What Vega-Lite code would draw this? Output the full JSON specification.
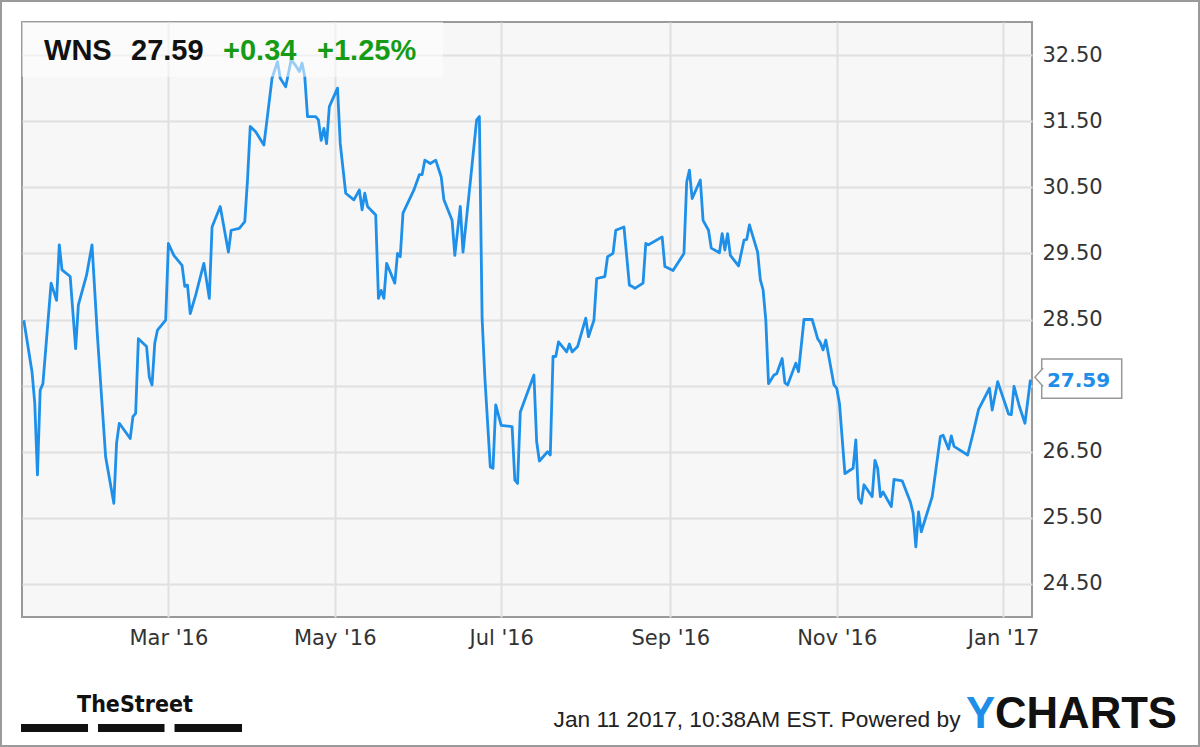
{
  "$schema": "https://vega.github.io/schema/vega-lite/v6.json",
  "width": 1010,
  "height": 595,
  "autosize": {"type": "none"},
  "padding": {"left": 22, "top": 22, "right": 168, "bottom": 130},
  "background": "white",
  "config": {
    "view": {"fill": "#f7f7f7", "stroke": "#9a9a9a", "strokeWidth": 2},
    "axis": {
      "grid": true, "gridColor": "#e0e0e0", "gridWidth": 2,
      "ticks": false, "tickSize": 0, "domain": false, "title": null,
      "labelFont": "DejaVu Sans", "labelFontSize": 21, "labelColor": "#333333", "labelPadding": 10
    }
  },
  "datasets": {
    "wns": [
      {"date":"2016-01-08","price":28.49},{"date":"2016-01-11","price":27.71},{"date":"2016-01-12","price":27.24},{"date":"2016-01-13","price":26.15},{"date":"2016-01-14","price":27.43},{"date":"2016-01-15","price":27.53},{"date":"2016-01-18","price":29.05},{"date":"2016-01-20","price":28.79},{"date":"2016-01-21","price":29.63},{"date":"2016-01-22","price":29.25},{"date":"2016-01-25","price":29.15},{"date":"2016-01-27","price":28.06},{"date":"2016-01-28","price":28.72},{"date":"2016-01-31","price":29.17},
      {"date":"2016-02-02","price":29.63},{"date":"2016-02-04","price":28.24},{"date":"2016-02-07","price":26.42},{"date":"2016-02-10","price":25.72},{"date":"2016-02-11","price":26.63},{"date":"2016-02-12","price":26.93},{"date":"2016-02-16","price":26.70},{"date":"2016-02-17","price":27.03},{"date":"2016-02-18","price":27.08},{"date":"2016-02-19","price":28.21},{"date":"2016-02-22","price":28.09},{"date":"2016-02-23","price":27.63},{"date":"2016-02-24","price":27.51},{"date":"2016-02-25","price":28.14},{"date":"2016-02-26","price":28.34},{"date":"2016-02-29","price":28.49},
      {"date":"2016-03-01","price":29.65},{"date":"2016-03-03","price":29.47},{"date":"2016-03-06","price":29.32},{"date":"2016-03-07","price":29.00},{"date":"2016-03-08","price":29.02},{"date":"2016-03-09","price":28.59},{"date":"2016-03-11","price":28.87},{"date":"2016-03-14","price":29.35},{"date":"2016-03-16","price":28.82},{"date":"2016-03-17","price":29.90},{"date":"2016-03-20","price":30.21},{"date":"2016-03-23","price":29.52},{"date":"2016-03-24","price":29.85},{"date":"2016-03-27","price":29.88},{"date":"2016-03-29","price":29.98},{"date":"2016-03-30","price":30.61},{"date":"2016-03-31","price":31.42},
      {"date":"2016-04-02","price":31.34},{"date":"2016-04-05","price":31.14},{"date":"2016-04-06","price":31.47},{"date":"2016-04-08","price":32.15},{"date":"2016-04-10","price":32.40},{"date":"2016-04-11","price":32.15},{"date":"2016-04-13","price":32.02},{"date":"2016-04-15","price":32.43},{"date":"2016-04-17","price":32.32},{"date":"2016-04-18","price":32.25},{"date":"2016-04-19","price":32.38},{"date":"2016-04-20","price":32.17},{"date":"2016-04-21","price":31.57},{"date":"2016-04-24","price":31.57},{"date":"2016-04-25","price":31.52},{"date":"2016-04-26","price":31.21},{"date":"2016-04-27","price":31.39},{"date":"2016-04-28","price":31.16},{"date":"2016-04-29","price":31.72},
      {"date":"2016-05-02","price":32.00},{"date":"2016-05-03","price":31.16},{"date":"2016-05-05","price":30.41},{"date":"2016-05-08","price":30.31},{"date":"2016-05-10","price":30.46},{"date":"2016-05-11","price":30.16},{"date":"2016-05-12","price":30.41},{"date":"2016-05-13","price":30.21},{"date":"2016-05-16","price":30.08},{"date":"2016-05-17","price":28.82},{"date":"2016-05-18","price":28.94},{"date":"2016-05-19","price":28.82},{"date":"2016-05-20","price":29.35},{"date":"2016-05-23","price":29.05},{"date":"2016-05-24","price":29.50},{"date":"2016-05-25","price":29.45},{"date":"2016-05-26","price":30.11},{"date":"2016-05-30","price":30.46},
      {"date":"2016-06-01","price":30.69},{"date":"2016-06-02","price":30.69},{"date":"2016-06-03","price":30.91},{"date":"2016-06-05","price":30.86},{"date":"2016-06-07","price":30.91},{"date":"2016-06-09","price":30.66},{"date":"2016-06-10","price":30.31},{"date":"2016-06-13","price":30.00},{"date":"2016-06-14","price":29.47},{"date":"2016-06-16","price":30.21},{"date":"2016-06-17","price":29.52},{"date":"2016-06-20","price":30.71},{"date":"2016-06-22","price":31.52},{"date":"2016-06-23","price":31.57},{"date":"2016-06-24","price":28.52},{"date":"2016-06-25","price":27.63},{"date":"2016-06-27","price":26.27},{"date":"2016-06-28","price":26.25},{"date":"2016-06-29","price":27.21},
      {"date":"2016-07-01","price":26.90},{"date":"2016-07-05","price":26.88},{"date":"2016-07-06","price":26.07},{"date":"2016-07-07","price":26.02},{"date":"2016-07-08","price":27.10},{"date":"2016-07-13","price":27.66},{"date":"2016-07-14","price":26.65},{"date":"2016-07-15","price":26.36},{"date":"2016-07-18","price":26.50},{"date":"2016-07-19","price":26.45},{"date":"2016-07-20","price":27.94},{"date":"2016-07-21","price":27.94},{"date":"2016-07-22","price":28.16},{"date":"2016-07-25","price":28.01},{"date":"2016-07-26","price":28.13},{"date":"2016-07-27","price":28.01},{"date":"2016-07-29","price":28.09},
      {"date":"2016-08-01","price":28.52},{"date":"2016-08-02","price":28.24},{"date":"2016-08-04","price":28.49},{"date":"2016-08-05","price":29.12},{"date":"2016-08-08","price":29.15},{"date":"2016-08-09","price":29.45},{"date":"2016-08-11","price":29.50},{"date":"2016-08-12","price":29.85},{"date":"2016-08-15","price":29.90},{"date":"2016-08-17","price":29.02},{"date":"2016-08-18","price":29.00},{"date":"2016-08-19","price":28.97},{"date":"2016-08-22","price":29.05},{"date":"2016-08-23","price":29.65},{"date":"2016-08-24","price":29.63},{"date":"2016-08-29","price":29.75},{"date":"2016-08-30","price":29.30},
      {"date":"2016-09-02","price":29.24},{"date":"2016-09-06","price":29.50},{"date":"2016-09-07","price":30.58},{"date":"2016-09-08","price":30.76},{"date":"2016-09-09","price":30.33},{"date":"2016-09-12","price":30.61},{"date":"2016-09-13","price":30.00},{"date":"2016-09-15","price":29.85},{"date":"2016-09-16","price":29.58},{"date":"2016-09-19","price":29.51},{"date":"2016-09-20","price":29.80},{"date":"2016-09-21","price":29.55},{"date":"2016-09-22","price":29.80},{"date":"2016-09-23","price":29.47},{"date":"2016-09-26","price":29.31},{"date":"2016-09-28","price":29.70},{"date":"2016-09-29","price":29.71},{"date":"2016-09-30","price":29.93},
      {"date":"2016-10-03","price":29.52},{"date":"2016-10-04","price":29.10},{"date":"2016-10-05","price":28.95},{"date":"2016-10-06","price":28.49},{"date":"2016-10-07","price":27.53},{"date":"2016-10-09","price":27.66},{"date":"2016-10-10","price":27.68},{"date":"2016-10-12","price":27.91},{"date":"2016-10-13","price":27.54},{"date":"2016-10-14","price":27.51},{"date":"2016-10-17","price":27.84},{"date":"2016-10-18","price":27.71},{"date":"2016-10-20","price":28.50},{"date":"2016-10-23","price":28.50},{"date":"2016-10-25","price":28.21},{"date":"2016-10-26","price":28.15},{"date":"2016-10-27","price":28.04},{"date":"2016-10-28","price":28.19},{"date":"2016-10-31","price":27.51},
      {"date":"2016-11-01","price":27.46},{"date":"2016-11-02","price":27.23},{"date":"2016-11-04","price":26.17},{"date":"2016-11-07","price":26.25},{"date":"2016-11-08","price":26.68},{"date":"2016-11-09","price":25.79},{"date":"2016-11-10","price":25.72},{"date":"2016-11-11","price":26.00},{"date":"2016-11-14","price":25.82},{"date":"2016-11-15","price":26.37},{"date":"2016-11-16","price":26.25},{"date":"2016-11-17","price":25.82},{"date":"2016-11-18","price":25.89},{"date":"2016-11-21","price":25.67},{"date":"2016-11-22","price":26.08},{"date":"2016-11-25","price":26.06},{"date":"2016-11-28","price":25.74},{"date":"2016-11-29","price":25.57},{"date":"2016-11-30","price":25.06},
      {"date":"2016-12-01","price":25.59},{"date":"2016-12-02","price":25.29},{"date":"2016-12-06","price":25.82},{"date":"2016-12-09","price":26.73},{"date":"2016-12-10","price":26.75},{"date":"2016-12-12","price":26.54},{"date":"2016-12-13","price":26.74},{"date":"2016-12-14","price":26.58},{"date":"2016-12-19","price":26.45},{"date":"2016-12-21","price":26.78},{"date":"2016-12-23","price":27.14},{"date":"2016-12-27","price":27.46},{"date":"2016-12-28","price":27.13},{"date":"2016-12-30","price":27.56},
      {"date":"2017-01-03","price":27.07},{"date":"2017-01-04","price":27.06},{"date":"2017-01-05","price":27.49},{"date":"2017-01-07","price":27.18},{"date":"2017-01-09","price":26.93},{"date":"2017-01-11","price":27.59}
    ],
    "first": [{"date":"2016-01-08","price":28.49}],
    "last": [{"date":"2017-01-11","price":27.59}]
  },
  "encoding": {
    "x": {
      "field": "date", "type": "temporal",
      "scale": {"type": "utc", "domain": [{"year":2016,"month":1,"date":7,"hours":8,"utc":true},{"year":2017,"month":1,"date":11,"hours":14,"utc":true}]},
      "axis": {
        "orient": "bottom", "format": "%b '%y",
        "values": [{"year":2016,"month":3,"date":1,"utc":true},{"year":2016,"month":5,"date":1,"utc":true},{"year":2016,"month":7,"date":1,"utc":true},{"year":2016,"month":9,"date":1,"utc":true},{"year":2016,"month":11,"date":1,"utc":true},{"year":2017,"month":1,"date":1,"utc":true}]
      }
    },
    "y": {
      "field": "price", "type": "quantitative",
      "scale": {"domain": [24, 33], "nice": false, "zero": false},
      "axis": {"orient": "right", "format": ".2f", "values": [24.5,25.5,26.5,27.5,28.5,29.5,30.5,31.5,32.5], "labelExpr": "datum.value == 27.5 ? '' : datum.label"}
    }
  },
  "layer": [
    {
      "data": {"name": "wns"},
      "mark": {"type": "line", "color": "#1e90ea", "strokeWidth": 2.8, "strokeJoin": "round"}
    },
    {
      "data": {"name": "first"},
      "mark": {"type": "rect", "fill": "white", "opacity": 0.55, "xOffset": -1.8, "x2Offset": 419.2},
      "encoding": {"x2": {"field": "date"}, "y": {"datum": 33, "type": "quantitative"}, "y2": {"datum": 32.173}}
    },
    {
      "data": {"name": "first"},
      "mark": {"type": "text", "text": "WNS", "font": "Liberation Sans", "fontWeight": "bold", "fontSize": 29, "align": "left", "baseline": "alphabetic", "color": "#111111", "dx": 20.2},
      "encoding": {"y": {"datum": 32.425, "type": "quantitative"}}
    },
    {
      "data": {"name": "first"},
      "mark": {"type": "text", "text": "27.59", "font": "Liberation Sans", "fontWeight": "bold", "fontSize": 29, "align": "left", "baseline": "alphabetic", "color": "#111111", "dx": 107.2},
      "encoding": {"y": {"datum": 32.425, "type": "quantitative"}}
    },
    {
      "data": {"name": "first"},
      "mark": {"type": "text", "text": "+0.34", "font": "Liberation Sans", "fontWeight": "bold", "fontSize": 29, "align": "left", "baseline": "alphabetic", "color": "#169b16", "dx": 199.2},
      "encoding": {"y": {"datum": 32.425, "type": "quantitative"}}
    },
    {
      "data": {"name": "first"},
      "mark": {"type": "text", "text": "+1.25%", "font": "Liberation Sans", "fontWeight": "bold", "fontSize": 29, "align": "left", "baseline": "alphabetic", "color": "#169b16", "dx": 293.2},
      "encoding": {"y": {"datum": 32.425, "type": "quantitative"}}
    },
    {
      "data": {"name": "last"},
      "mark": {"type": "rect", "fill": "white", "stroke": "#999999", "strokeWidth": 1.5, "xOffset": 11.3, "x2Offset": 91.3, "yOffset": -20.7, "y2Offset": 18.6},
      "encoding": {"x2": {"field": "date"}, "y2": {"field": "price"}}
    },
    {
      "data": {"name": "last"},
      "mark": {"type": "point", "shape": "M0.45,-1L-0.45,0L0.45,1", "size": 340, "filled": true, "fill": "white", "stroke": "#999999", "strokeWidth": 1.5, "opacity": 1, "xOffset": 8.6, "yOffset": -2.4}
    },
    {
      "data": {"name": "last"},
      "mark": {"type": "text", "font": "DejaVu Sans", "fontWeight": "bold", "fontSize": 20, "align": "left", "baseline": "middle", "color": "#1e8ee8", "dx": 16.5, "dy": 1},
      "encoding": {"text": {"field": "price", "format": ".2f"}}
    },
    {
      "data": {"name": "first"},
      "mark": {"type": "text", "text": "TheStreet", "font": "Liberation Sans Narrow, DejaVu Sans Condensed, sans-serif", "fontWeight": "bold", "fontSize": 23, "align": "left", "baseline": "alphabetic", "color": "#111111", "dx": 53.2},
      "encoding": {"y": {"datum": 22.563, "type": "quantitative"}}
    },
    {
      "data": {"name": "first"},
      "mark": {"type": "rect", "fill": "#111111", "xOffset": -2.8, "x2Offset": 64.2},
      "encoding": {"x2": {"field": "date"}, "y": {"datum": 22.381, "type": "quantitative"}, "y2": {"datum": 22.26}}
    },
    {
      "data": {"name": "first"},
      "mark": {"type": "rect", "fill": "#111111", "xOffset": 74.2, "x2Offset": 140.7},
      "encoding": {"x2": {"field": "date"}, "y": {"datum": 22.381, "type": "quantitative"}, "y2": {"datum": 22.26}}
    },
    {
      "data": {"name": "first"},
      "mark": {"type": "rect", "fill": "#111111", "xOffset": 150.7, "x2Offset": 218.2},
      "encoding": {"x2": {"field": "date"}, "y": {"datum": 22.381, "type": "quantitative"}, "y2": {"datum": 22.26}}
    },
    {
      "data": {"name": "last"},
      "mark": {"type": "text", "text": "Jan 11 2017, 10:38AM EST. Powered by", "font": "Liberation Sans", "fontSize": 22.7, "align": "right", "baseline": "alphabetic", "color": "#222222", "dx": -69.9},
      "encoding": {"y": {"datum": 22.336, "type": "quantitative"}}
    },
    {
      "data": {"name": "last"},
      "mark": {"type": "text", "text": "Y", "font": "Liberation Sans", "fontWeight": "bold", "fontSize": 43.7, "align": "left", "baseline": "alphabetic", "color": "#1e8ee8", "dx": -64.4},
      "encoding": {"y": {"datum": 22.316, "type": "quantitative"}}
    },
    {
      "data": {"name": "last"},
      "mark": {"type": "text", "text": "CHARTS", "font": "Liberation Sans", "fontWeight": "bold", "fontSize": 43.7, "align": "right", "baseline": "alphabetic", "color": "#111111", "dx": 146.6},
      "encoding": {"y": {"datum": 22.316, "type": "quantitative"}}
    },
    {
      "data": {"name": "first"},
      "mark": {"type": "rect", "filled": false, "stroke": "#9a9a9a", "strokeWidth": 2, "xOffset": -22.8, "x2Offset": 1175.2},
      "encoding": {"x2": {"field": "date"}, "y": {"datum": 33.318, "type": "quantitative"}, "y2": {"datum": 22.049}}
    }
  ]
}
